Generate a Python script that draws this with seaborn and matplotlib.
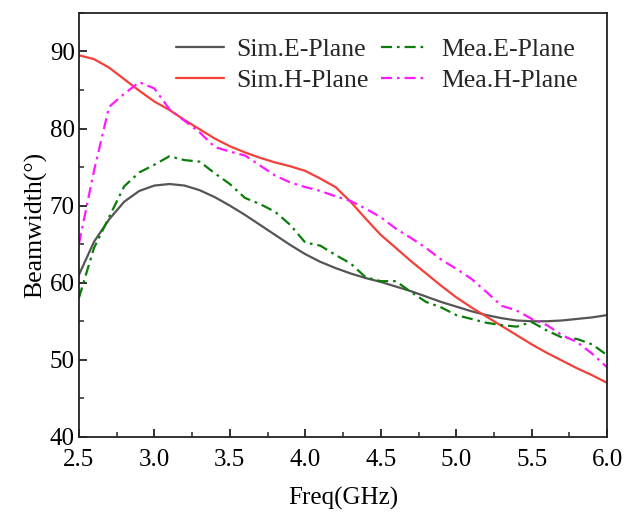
import numpy as np
import pandas as pd
import matplotlib
matplotlib.use("Agg")
import matplotlib.pyplot as plt
import seaborn as sns
from matplotlib.ticker import MultipleLocator, FormatStrFormatter

freq = [2.5, 2.6, 2.7, 2.8, 2.9, 3.0, 3.1, 3.2, 3.3, 3.4, 3.5, 3.6,
        3.7, 3.8, 3.9, 4.0, 4.1, 4.2, 4.3, 4.4, 4.5, 4.6, 4.7, 4.8,
        4.9, 5.0, 5.1, 5.2, 5.3, 5.4, 5.5, 5.6, 5.7, 5.8, 5.9, 6.0]

sim_e = [61.0, 65.3, 68.2, 70.5, 71.9, 72.6, 72.8, 72.6, 72.0, 71.1, 70.0, 68.8,
         67.5, 66.2, 64.9, 63.7, 62.7, 61.9, 61.2, 60.6, 60.1, 59.5, 58.9, 58.2,
         57.5, 56.9, 56.3, 55.8, 55.4, 55.1, 55.0, 55.0, 55.1, 55.3, 55.5, 55.8]

sim_h = [89.5, 89.0, 87.9, 86.4, 84.9, 83.5, 82.4, 81.1, 79.9, 78.7, 77.7, 76.9,
         76.2, 75.6, 75.1, 74.5, 73.5, 72.4, 70.5, 68.3, 66.2, 64.5, 62.8, 61.2,
         59.6, 58.1, 56.8, 55.6, 54.4, 53.2, 52.0, 50.9, 49.9, 48.9, 48.0, 47.0]

mea_e = [58.0, 64.5, 68.5, 72.5, 74.3, 75.3, 76.4, 75.9, 75.7, 74.2, 72.8, 71.0,
         70.2, 69.2, 67.5, 65.2, 64.8, 63.6, 62.5, 60.7, 60.2, 60.2, 58.8, 57.5,
         56.8, 55.8, 55.3, 54.8, 54.5, 54.3, 54.9, 53.8, 52.9, 52.7, 52.0, 50.6]

mea_h = [65.0, 74.5, 82.8, 84.5, 86.0, 85.2, 82.5, 81.0, 79.5, 77.6, 77.0, 76.5,
         75.2, 73.9, 73.0, 72.4, 71.9, 71.2, 70.6, 69.6, 68.5, 67.0, 65.8, 64.5,
         63.0, 61.8, 60.5, 58.8, 57.0, 56.4, 55.3, 54.5, 53.2, 52.3, 50.8, 49.0]

series = ["Sim.E-Plane", "Sim.H-Plane", "Mea.E-Plane", "Mea.H-Plane"]

df = pd.concat([
    pd.DataFrame({"Freq": freq, "Beamwidth": vals, "Series": name})
    for name, vals in zip(series, [sim_e, sim_h, mea_e, mea_h])
], ignore_index=True)

sns.set_theme(style="ticks")
plt.rcParams["font.family"] = ["Liberation Serif", "DejaVu Serif"]

fig = plt.figure(figsize=(6.26, 5.14), dpi=100)
ax = fig.add_axes([0.126, 0.150, 0.844, 0.825])

palette = {"Sim.E-Plane": "#555555", "Sim.H-Plane": "#f5403a",
           "Mea.E-Plane": "#0a7d0a", "Mea.H-Plane": "#ff19ff"}
dashes = {"Sim.E-Plane": "", "Sim.H-Plane": "",
          "Mea.E-Plane": (5, 2.2, 1.2, 2.2), "Mea.H-Plane": (5, 2.2, 1.2, 2.2)}

sns.lineplot(data=df, x="Freq", y="Beamwidth", hue="Series", style="Series",
             hue_order=series, style_order=series, palette=palette,
             dashes=dashes, linewidth=1.6, ax=ax)

ax.set_xlim(2.5, 6.0)
ax.set_ylim(40, 95)
ax.xaxis.set_major_locator(MultipleLocator(0.5))
ax.xaxis.set_minor_locator(MultipleLocator(0.25))
ax.yaxis.set_major_locator(MultipleLocator(10))
ax.yaxis.set_minor_locator(MultipleLocator(5))
ax.xaxis.set_major_formatter(FormatStrFormatter("%.1f"))

ax.tick_params(axis="both", which="major", direction="in", length=6, width=1.3,
               labelsize=18, labelcolor="black", color="#222222")
ax.tick_params(axis="x", which="major", pad=9)
ax.tick_params(axis="y", which="major", pad=3)
ax.tick_params(axis="both", which="minor", direction="in", length=3.5, width=1.1)
ax.tick_params(top=False, right=False, which="both")
for sp in ax.spines.values():
    sp.set_linewidth(1.3)
    sp.set_color("#222222")

ax.set_xlabel("Freq(GHz)", fontsize=18, labelpad=11, color="black")
ax.set_ylabel("Beamwidth(°)", fontsize=18.5, labelpad=2, color="black")

ax.legend(loc="upper right", ncol=2, frameon=False, fontsize=18.5,
          handlelength=1.85, columnspacing=0.45, handletextpad=0.5,
          labelspacing=0.3, borderaxespad=0.0, borderpad=0.0,
          bbox_to_anchor=(0.944, 0.94))

fig.savefig("out.png", dpi=100)
